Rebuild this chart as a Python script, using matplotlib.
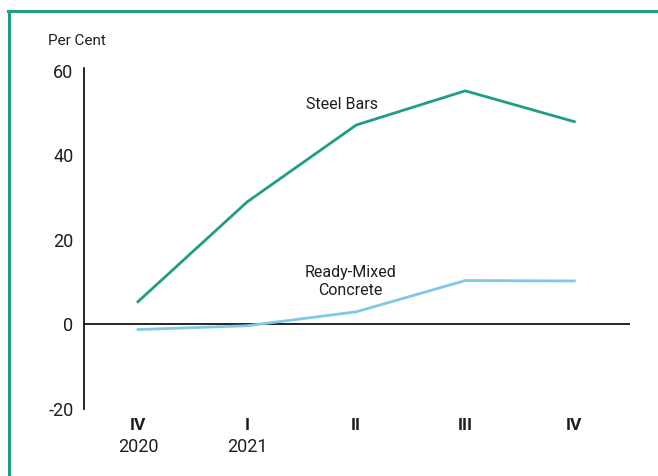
import numpy as np
import matplotlib.pyplot as plt
from matplotlib.transforms import blended_transform_factory

plt.rcParams['font.family'] = ['Roboto', 'DejaVu Sans']

# Quarterly data, per cent
quarters = ['IV', 'I', 'II', 'III', 'IV']
years = ['2020', '2021', '', '', '']
steel_bars = [5.4, 29.0, 47.2, 55.3, 48.0]
ready_mixed = [-1.2, -0.3, 3.0, 10.4, 10.3]
y_ticks = [60, 40, 20, 0, -20]

teal = '#1f9e85'
light_blue = '#7ec8e8'
ink = '#1e1e1e'

fig = plt.figure(figsize=(6.58, 4.76), dpi=100)
W, H = 658, 476

# Teal frame on the top and left
fig.add_artist(plt.Line2D([8 / W, 1], [1 - 11 / H, 1 - 11 / H], color=teal, lw=2.2))
fig.add_artist(plt.Line2D([9 / W, 9 / W], [0, 1 - 11 / H], color=teal, lw=2.2))

ax = fig.add_axes([84 / W, 1 - 409 / H, (630 - 84) / W, (409 - 68) / H])
x = np.arange(len(quarters))
ax.plot(x, steel_bars, color=teal, lw=2)
ax.plot(x, ready_mixed, color=light_blue, lw=2)
ax.axhline(0, color='black', lw=1.2, zorder=0)

ax.set_xlim(-0.495, 4.51)
ax.set_ylim(-19.8, 60.7)
for s in ['top', 'right', 'bottom']:
    ax.spines[s].set_visible(False)
ax.spines['left'].set_linewidth(1.2)
ax.set_xticks([])
ax.set_yticks(y_ticks)
ax.set_yticklabels([str(v) for v in y_ticks], fontsize=13, color=ink)
ax.tick_params(axis='y', length=0, pad=7.5)

trans = blended_transform_factory(ax.transData, fig.transFigure)
for xi, q, yr in zip(x, quarters, years):
    ax.text(xi, 1 - 425 / H, q, transform=trans, ha='center', va='center',
            fontsize=12.5, fontweight='bold', color=ink)
    if yr:
        ax.text(xi, 1 - 447 / H, yr, transform=trans, ha='center', va='center',
                fontsize=13, color=ink)

fig.text(48 / W, 1 - 41 / H, 'Per Cent', ha='left', va='center', fontsize=11, color=ink)

ax.text(1.87, 52, 'Steel Bars', ha='center', va='center', fontsize=11.5, color=ink)
ax.text(1.95, 10.2, 'Ready-Mixed\nConcrete', ha='center', va='center', fontsize=11.5,
        color=ink, linespacing=1.25)

fig.savefig('out.png', dpi=100)
